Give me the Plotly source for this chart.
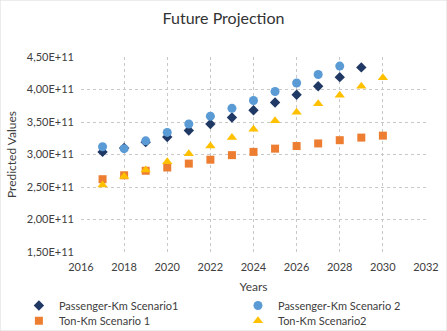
import plotly.graph_objects as go

years_p1 = [2017, 2018, 2019, 2020, 2021, 2022, 2023, 2024, 2025, 2026, 2027, 2028, 2029]
pass_s1 = [3.04e11, 3.10e11, 3.19e11, 3.27e11, 3.37e11, 3.47e11, 3.57e11, 3.68e11, 3.80e11, 3.92e11, 4.05e11, 4.19e11, 4.34e11]

years_p2 = [2017, 2018, 2019, 2020, 2021, 2022, 2023, 2024, 2025, 2026, 2027, 2028]
pass_s2 = [3.12e11, 3.09e11, 3.21e11, 3.34e11, 3.47e11, 3.59e11, 3.71e11, 3.83e11, 3.97e11, 4.10e11, 4.23e11, 4.36e11]

years_t = [2017, 2018, 2019, 2020, 2021, 2022, 2023, 2024, 2025, 2026, 2027, 2028, 2029, 2030]
ton_s1 = [2.62e11, 2.68e11, 2.75e11, 2.80e11, 2.86e11, 2.92e11, 2.99e11, 3.04e11, 3.09e11, 3.13e11, 3.17e11, 3.22e11, 3.26e11, 3.29e11]
ton_s2 = [2.53e11, 2.66e11, 2.76e11, 2.89e11, 3.01e11, 3.13e11, 3.26e11, 3.39e11, 3.52e11, 3.65e11, 3.78e11, 3.91e11, 4.05e11, 4.18e11]

y_tickvals = [1.5e11, 2.0e11, 2.5e11, 3.0e11, 3.5e11, 4.0e11, 4.5e11]
y_ticktext = ["1,50E+11", "2,00E+11", "2,50E+11", "3,00E+11", "3,50E+11", "4,00E+11", "4,50E+11"]
x_tickvals = [2016, 2018, 2020, 2022, 2024, 2026, 2028, 2030, 2032]

FONT = "Lato, Open Sans, sans-serif"
TXT = "#404040"
GRID = "#C8C8C8"

fig = go.Figure()
fig.add_trace(go.Scatter(x=years_p1, y=pass_s1, mode="markers", name="Passenger-Km Scenario1",
                         legend="legend",
                         marker=dict(symbol="diamond", size=8, color="#203864")))
fig.add_trace(go.Scatter(x=years_p2, y=pass_s2, mode="markers", name="Passenger-Km Scenario 2",
                         legend="legend2",
                         marker=dict(symbol="circle", size=9, color="#5B9BD5")))
fig.add_trace(go.Scatter(x=years_t, y=ton_s1, mode="markers", name="Ton-Km Scenario 1",
                         legend="legend3",
                         marker=dict(symbol="square", size=8, color="#ED7D31")))
fig.add_trace(go.Scatter(x=years_t, y=ton_s2, mode="markers", name="Ton-Km Scenario2",
                         legend="legend4",
                         marker=dict(symbol="triangle-up", size=9, color="#FFC000")))

leg_common = dict(orientation="v", yanchor="top", xanchor="left", font=dict(size=11, color=TXT),
                  tracegroupgap=0, itemwidth=30, bgcolor="rgba(0,0,0,0)")

fig.update_layout(
    width=447, height=331,
    margin=dict(l=81, r=21, t=57, b=79, autoexpand=False),
    paper_bgcolor="white", plot_bgcolor="white",
    font=dict(family=FONT, size=11, color=TXT),
    title=dict(text="Future Projection", x=0.5, xanchor="center", y=0.945, yanchor="middle",
               font=dict(family=FONT, size=16, color="#333333")),
    xaxis=dict(range=[2016, 2032], tickvals=x_tickvals, showgrid=True,
               gridcolor=GRID, griddash="dot", gridwidth=1,
               zeroline=False, showline=False, ticklabelstandoff=7,
               ticks="", tickfont=dict(size=11, color=TXT),
               title=dict(text="Years", font=dict(size=12, color=TXT), standoff=10)),
    yaxis=dict(range=[1.5e11, 4.5e11], tickvals=y_tickvals, ticktext=y_ticktext, showgrid=True,
               gridcolor=GRID, griddash="dot", gridwidth=1,
               zeroline=False, showline=False, ticklabelstandoff=6,
               ticks="", tickfont=dict(size=11, color=TXT),
               title=dict(text="Predicted Values", font=dict(size=12, color=TXT), standoff=7)),
    legend=dict(x=-0.18, y=-0.2, **leg_common),
    legend2=dict(x=0.455, y=-0.2, **leg_common),
    legend3=dict(x=-0.18, y=-0.278, **leg_common),
    legend4=dict(x=0.455, y=-0.278, **leg_common),
    showlegend=True,
)
fig.add_shape(type="rect", xref="paper", yref="paper", x0=-81/345, x1=1+21/345, y0=-79/195, y1=1+57/195,
              line=dict(color="#D9D9D9", width=1))
fig.write_html("out.html")
